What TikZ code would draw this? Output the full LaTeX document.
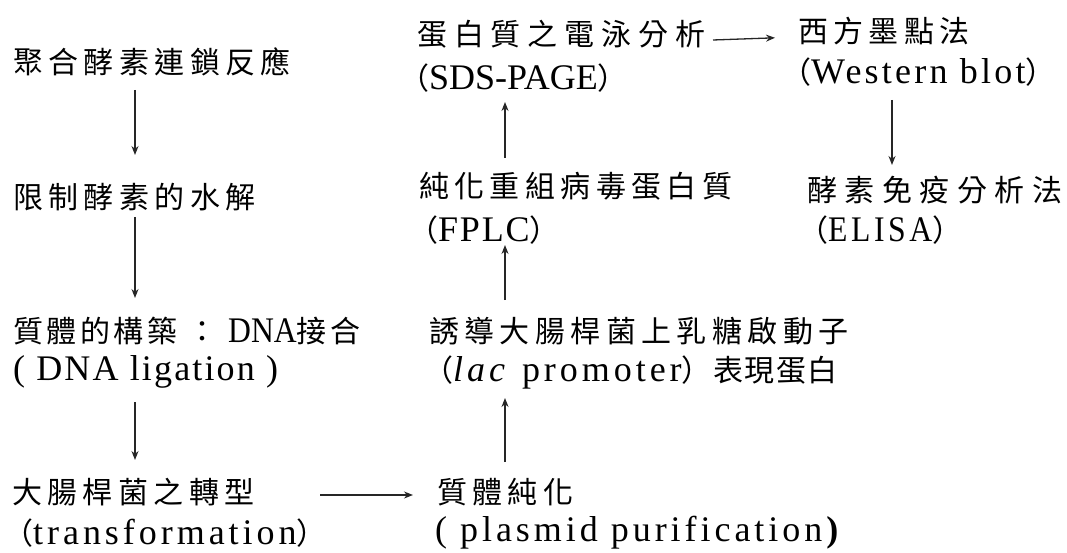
\documentclass[tikz,border=0pt]{standalone}
\usepackage{fontspec}
\setmainfont{Liberation Serif}
\newfontfamily\cjk{Noto Sans CJK TC}
\newfontfamily\lat{Liberation Serif}
\newfontfamily\latc[FakeStretch=0.88]{Liberation Serif}
\newcommand\La[2][0]{{\fontsize{36pt}{40pt}\lat\addfontfeatures{LetterSpace=#1}#2}}
\newcommand\Lc[2][0]{{\fontsize{36pt}{40pt}\latc\addfontfeatures{LetterSpace=#1}#2}}
\usetikzlibrary{arrows.meta}
\tikzset{
  lbl/.style={anchor=west, inner sep=0pt, text=black},
  cj/.style={lbl, font={\fontsize{30pt}{36pt}\cjk\addfontfeatures{LetterSpace=#1}}},
  arr/.style={draw=black!85, line width=1.3pt, -{Stealth[length=9pt,width=7pt]}}
}
\begin{document}
\begin{tikzpicture}[x=1pt,y=-1pt]
\useasboundingbox (0,0) rectangle (1067,553);
% x positions of the connectors
\coordinate (xL) at (135,0);
\coordinate (xM) at (505,0);
\coordinate (xR) at (892,0);
\coordinate (xH1) at (320,0);
\coordinate (xH2) at (713,0);
% left column
\node[cj=18] (n1) at (13,62) {聚合酵素連鎖反應};
\node[cj=18] (n2) at (13,197) {限制酵素的水解};
\node[cj=12] (n3a) at (13,331) {質體的構築 ： \Lc{DNA}接合};
\node[cj=0] (n3b) at (13,372) {\La[6]{( DNA ligation )}};
\node[cj=18] (n4a) at (12,492) {大腸桿菌之轉型};
\node[cj=0] (n4b) at (3,533) {（\La[11]{transformation}）};
% middle column
\node[cj=18] (n5a) at (437,492) {質體純化};
\node[cj=0] (n5b) at (435,533) {\La[11]{( plasmid purification\textbf{)}}};
\node[cj=18] (n6a) at (429,331) {誘導大腸桿菌上乳糖啟動子};
\node[cj=5] (n6b) at (423,372) {（\La[11]{\textit{lac} promoter}）表現蛋白};
\node[cj=18] (n7a) at (419,186) {純化重組病毒蛋白質};
\node[cj=0] (n7b) at (408,230) {（\La[5]{FPLC}）};
\node[cj=23] (n8a) at (417,34) {蛋白質之電泳分析};
\node[cj=0] (n8b) at (399,78) {（\La{SDS-PAGE}）};
% right column
\node[cj=18] (n9a) at (798,31) {西方墨點法};
\node[cj=0] (n9b) at (781,72) {（\La[9]{Western blot}）};
\node[cj=25] (n10a) at (807,190) {酵素免疫分析法};
\node[cj=0] (n10b) at (798,230) {（\Lc[10]{ELISA}）};
% connectors
\draw[arr, shorten <=28pt, shorten >=42pt] (n1.west -| xL) -- (n2.west -| xL);
\draw[arr, shorten <=20pt, shorten >=33pt] (n2.west -| xL) -- (n3a.west -| xL);
\draw[arr, shorten <=30pt, shorten >=32pt] (n3b.west -| xL) -- (n4a.west -| xL);
\draw[arr, shorten >=24pt] ([yshift=-3pt]n4a.west -| xH1) -- ([yshift=-3pt]n5a.west);
\draw[arr, shorten <=30pt, shorten >=26pt] (n5a.west -| xM) -- (n6b.west -| xM);
\draw[arr, shorten <=31pt, shorten >=15pt] (n6a.west -| xM) -- (n7b.west -| xM);
\draw[arr, shorten <=28pt, shorten >=24pt] (n7a.west -| xM) -- (n8b.west -| xM);
\draw[arr, shorten >=23pt] ([yshift=-6pt]n8a.west -| xH2) -- ([yshift=-6pt]n9a.west);
\draw[arr, shorten <=28pt, shorten >=25pt] (n9b.west -| xR) -- (n10a.west -| xR);
\end{tikzpicture}
\end{document}
